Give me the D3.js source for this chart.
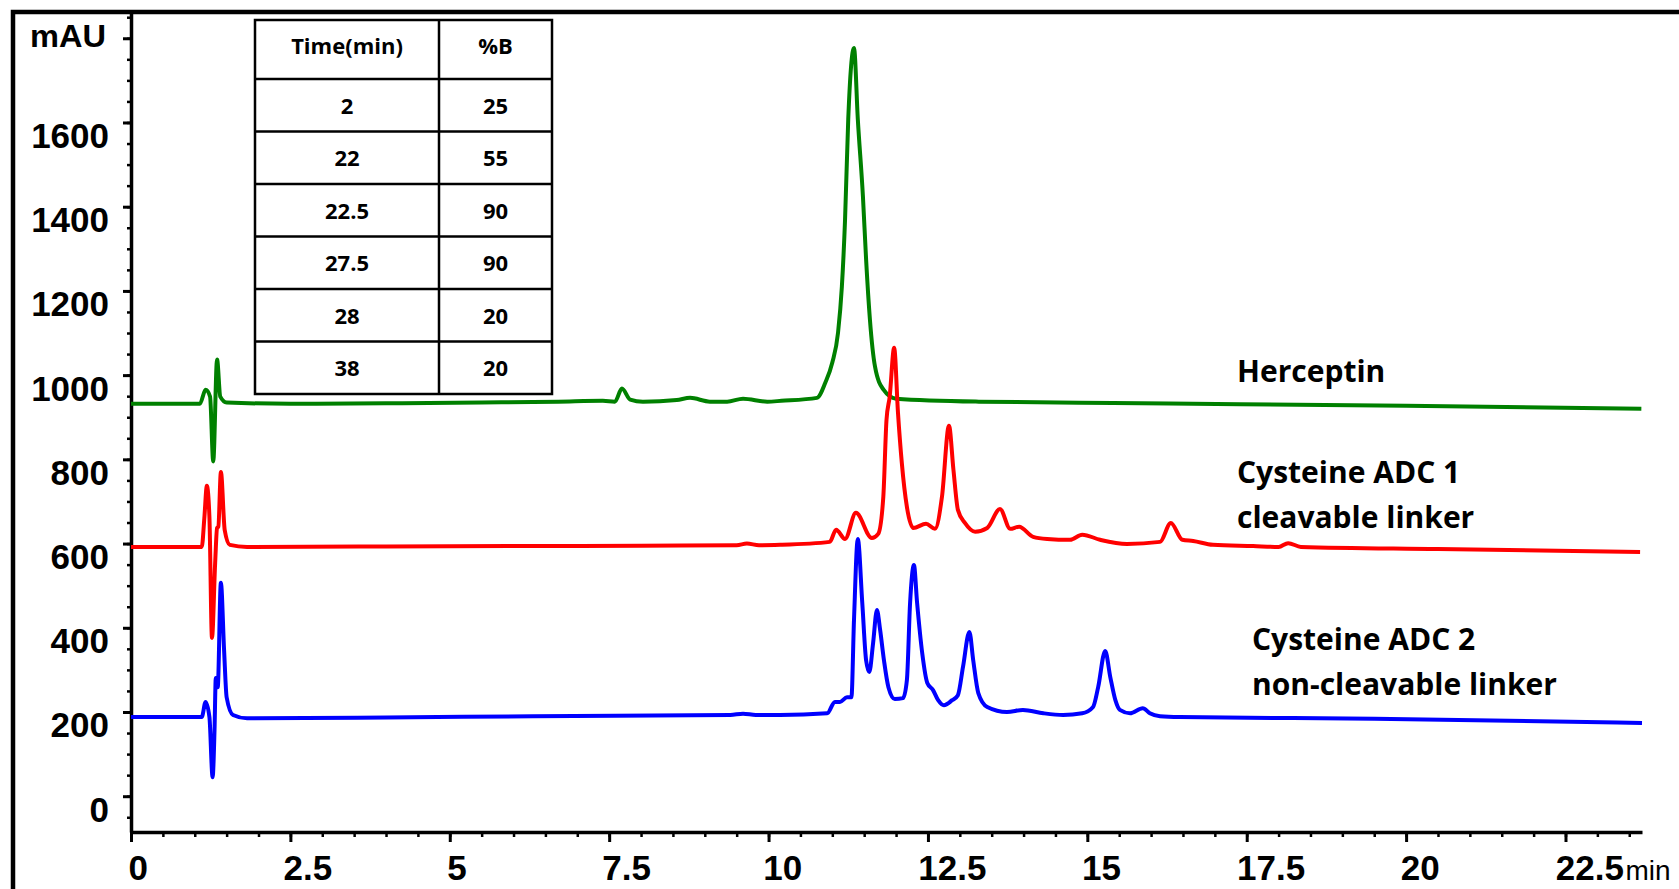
<!DOCTYPE html>
<html>
<head>
<meta charset="utf-8">
<script src="https://cdn.jsdelivr.net/npm/d3@7"></script>
<style>
  body { margin: 0; background: #fff; }
  #wrapper { width: 1679px; height: 889px; overflow: hidden; }
</style>
</head>
<body>
<div id="wrapper"></div>
<script>

// chromatogram traces, [time (min), absorbance (mAU)]
const herceptin = [
  [0, 932], [1.08, 932], [1.17, 965], [1.24, 949], [1.29, 795], [1.35, 1037], [1.40, 949], [1.50, 935],
  [2.5, 932], [4, 933], [5.5, 935], [6.7, 937], [7.4, 939], [7.59, 937], [7.70, 968], [7.83, 942],
  [8.03, 937], [8.56, 941], [8.77, 946], [9.08, 937], [9.35, 937], [9.6, 944], [9.98, 937], [10.2, 939],
  [10.76, 946], [10.89, 982], [11.0, 1030], [11.09, 1101], [11.15, 1210], [11.2, 1370], [11.25, 1608],
  [11.34, 1777], [11.40, 1608], [11.48, 1425], [11.53, 1275], [11.59, 1132], [11.67, 1020], [11.8, 966],
  [12.0, 944], [13.3, 937], [15.4, 934], [17.4, 931], [20, 927], [23.69, 920]
]

const adc1 = [
  [0, 592], [1.11, 592], [1.15, 660], [1.19, 737], [1.23, 663], [1.27, 376], [1.32, 554], [1.35, 637],
  [1.37, 640], [1.41, 770], [1.47, 632], [1.55, 597], [1.82, 592], [4, 593], [6, 594], [8, 595],
  [9.5, 596], [9.66, 600], [9.85, 596], [10.18, 597], [10.96, 604], [11.06, 633], [11.2, 611],
  [11.37, 673], [11.62, 613], [11.72, 623], [11.80, 711], [11.85, 894], [11.9, 949], [11.97, 1065],
  [12.03, 911], [12.09, 792], [12.17, 687], [12.27, 637], [12.47, 647], [12.61, 635], [12.72, 711],
  [12.83, 880], [12.9, 775], [12.97, 680], [13.08, 649], [13.24, 628], [13.43, 637], [13.63, 682],
  [13.79, 635], [13.93, 640], [14.15, 616], [14.37, 611], [14.73, 609], [14.92, 621], [15.2, 609],
  [15.62, 599], [16.14, 604], [16.31, 649], [16.49, 609], [16.66, 606], [16.97, 597], [17.6, 594],
  [18.0, 592], [18.15, 601], [18.35, 592], [20.5, 587], [23.67, 580]
]

const adc2 = [
  [0, 188], [1.11, 188], [1.17, 224], [1.23, 188], [1.28, 45], [1.31, 157], [1.33, 281], [1.36, 259],
  [1.41, 507], [1.46, 347], [1.5, 235], [1.6, 193], [1.82, 185], [4, 187], [6.3, 190], [9.4, 193],
  [9.6, 196], [9.8, 193], [10.18, 193], [10.92, 197], [11.04, 224], [11.12, 224], [11.23, 235],
  [11.3, 235], [11.34, 418], [11.40, 611], [11.47, 459], [11.53, 323], [11.58, 295], [11.64, 364],
  [11.7, 442], [11.75, 395], [11.81, 323], [11.88, 259], [11.98, 231], [12.11, 233], [12.17, 276],
  [12.22, 459], [12.28, 549], [12.33, 459], [12.41, 340], [12.49, 269], [12.58, 252], [12.66, 228],
  [12.75, 216], [12.88, 228], [12.97, 240], [13.05, 307], [13.15, 390], [13.21, 323], [13.29, 245],
  [13.43, 212], [13.74, 200], [13.99, 205], [14.31, 197], [14.62, 193], [14.92, 197], [15.09, 212],
  [15.17, 259], [15.28, 345], [15.36, 283], [15.44, 228], [15.51, 205], [15.67, 197], [15.87, 209],
  [15.98, 197], [16.14, 190], [16.45, 188], [19.5, 184], [23.7, 174]
]

const seriesNames = ["Herceptin", "Cysteine ADC 1", "Cysteine ADC 2"]
const seriesColors = ["#008000", "#ff0000", "#0000ff"]

// gradient table
const gradientTime = ["2", "22", "22.5", "27.5", "28", "38"]
const gradientB = ["25", "55", "90", "90", "20", "20"]

const xTicks = [0, 2.5, 5, 7.5, 10, 12.5, 15, 17.5, 20, 22.5]
const yTicks = [0, 200, 400, 600, 800, 1000, 1200, 1400, 1600]

function drawChart() {

  const xAccessor = d => d[0]
  const yAccessor = d => d[1]

  let dimensions = {
    width: 1679,
    height: 889,
    margin: {
      top: 13,
      right: 37,
      bottom: 57,
      left: 131,
    },
  }
  dimensions.boundedWidth = dimensions.width - dimensions.margin.left - dimensions.margin.right
  dimensions.boundedHeight = dimensions.height - dimensions.margin.top - dimensions.margin.bottom

  const wrapper = d3.select("#wrapper")
    .append("svg")
      .attr("width", dimensions.width)
      .attr("height", dimensions.height)

  // frame (left + top edges only visible)
  wrapper.append("path")
      .attr("d", `M13,${dimensions.height} L13,12 L${dimensions.width},12`)
      .attr("fill", "none")
      .attr("stroke", "#000")
      .attr("stroke-width", 4.5)

  const bounds = wrapper.append("g")
      .attr("transform", `translate(${dimensions.margin.left}, ${dimensions.margin.top})`)

  const xScale = d3.scaleLinear()
    .domain([0, 23.7])
    .range([0, dimensions.boundedWidth])

  const yScale = d3.scaleLinear()
    .domain([-85, 1860])
    .range([dimensions.boundedHeight, 0])

  const tickFont = "'Liberation Sans', Arial, sans-serif"
  const labelFont = "'Open Sans', sans-serif"

  // minor ticks
  bounds.append("g")
      .attr("transform", `translate(0, ${dimensions.boundedHeight})`)
      .call(d3.axisBottom(xScale).tickValues(d3.range(0, 23.75, 0.5)).tickSize(5).tickSizeOuter(0).tickFormat(""))
      .call(g => g.select(".domain").remove())
      .call(g => g.selectAll("line").attr("stroke-width", 2.5))

  bounds.append("g")
      .call(d3.axisLeft(yScale).tickValues(d3.range(-50, 1851, 50)).tickSize(4).tickSizeOuter(0).tickFormat(""))
      .call(g => g.select(".domain").remove())
      .call(g => g.selectAll("line").attr("stroke-width", 2.5))

  // x axis
  const xAxisGenerator = d3.axisBottom()
    .scale(xScale)
    .tickValues(xTicks)
    .tickSize(10)
    .tickSizeOuter(0)
    .tickFormat(d => d)

  const xAxis = bounds.append("g")
      .attr("transform", `translate(0, ${dimensions.boundedHeight})`)
      .call(xAxisGenerator)

  xAxis.select(".domain").attr("stroke-width", 3.5)
  xAxis.selectAll("line").attr("stroke-width", 3)
  xAxis.selectAll("text")
      .attr("fill", "#000")
      .style("font-family", tickFont)
      .style("font-weight", "bold")
      .style("font-size", "35px")
      .attr("dy", null)
      .attr("y", 48)
      .attr("text-anchor", "start")
      .attr("x", function() { return -0.15 * this.getComputedTextLength() })

  xAxis.append("text")
      .attr("x", xScale(22.5) + 60)
      .attr("y", 48)
      .attr("fill", "#000")
      .attr("text-anchor", "start")
      .style("font-family", tickFont)
      .style("font-size", "28px")
      .text("min")

  // y axis
  const yAxisGenerator = d3.axisLeft()
    .scale(yScale)
    .tickValues(yTicks.concat([1800]))
    .tickSize(8)
    .tickSizeOuter(0)
    .tickPadding(14)
    .tickFormat(d => d == 1800 ? "" : d)

  const yAxis = bounds.append("g")
      .call(yAxisGenerator)

  yAxis.select(".domain").attr("stroke-width", 3.5)
  yAxis.selectAll("line").attr("stroke-width", 3)
  yAxis.selectAll("text")
      .attr("fill", "#000")
      .style("font-family", tickFont)
      .style("font-weight", "bold")
      .style("font-size", "35px")
      .attr("dy", null)
      .attr("y", 25)

  yAxis.append("text")
      .attr("x", -25)
      .attr("y", yScale(1800) + 9)
      .attr("fill", "#000")
      .attr("text-anchor", "end")
      .attr("textLength", 76)
      .attr("lengthAdjust", "spacingAndGlyphs")
      .style("font-family", tickFont)
      .style("font-weight", "bold")
      .style("font-size", "31px")
      .text("mAU")

  // traces
  const lineGenerator = d3.line()
    .x(d => xScale(xAccessor(d)))
    .y(d => yScale(yAccessor(d)))
    .curve(d3.curveMonotoneX)

  const traces = [herceptin, adc1, adc2]
  bounds.selectAll(".trace")
    .data(traces)
    .enter().append("path")
      .attr("class", "trace")
      .attr("d", lineGenerator)
      .attr("fill", "none")
      .attr("stroke", (d, i) => seriesColors[i])
      .attr("stroke-width", 4)
      .attr("stroke-linejoin", "round")

  // trace labels
  const labels = [
    { lines: [seriesNames[0]], x: 1237, y: 382 },
    { lines: [seriesNames[1], "cleavable linker"], x: 1237, y: 483 },
    { lines: [seriesNames[2], "non-cleavable linker"], x: 1252, y: 650 },
  ]
  labels.forEach(l => {
    const t = wrapper.append("text")
        .attr("fill", "#000")
        .style("font-family", labelFont)
        .style("font-weight", "bold")
        .style("font-size", "30px")
    l.lines.forEach((s, i) => {
      t.append("tspan").attr("x", l.x).attr("y", l.y + i * 44.5).text(s)
    })
  })

  // gradient table
  const table = wrapper.append("g")
  const tLeft = 255, tRight = 552, tMid = 439, tTop = 20, headH = 59, rowH = 52.5
  const tBottom = tTop + headH + rowH * gradientTime.length

  table.append("rect")
      .attr("x", tLeft).attr("y", tTop)
      .attr("width", tRight - tLeft).attr("height", tBottom - tTop)
      .attr("fill", "#fff").attr("stroke", "#000").attr("stroke-width", 2.5)
  table.append("line")
      .attr("x1", tMid).attr("x2", tMid).attr("y1", tTop).attr("y2", tBottom)
      .attr("stroke", "#000").attr("stroke-width", 2.5)
  table.selectAll(".row-line")
    .data(gradientTime)
    .enter().append("line")
      .attr("x1", tLeft).attr("x2", tRight)
      .attr("y1", (d, i) => tTop + headH + i * rowH)
      .attr("y2", (d, i) => tTop + headH + i * rowH)
      .attr("stroke", "#000").attr("stroke-width", 2.5)

  const cellText = (x, y, s) => table.append("text")
      .attr("x", x).attr("y", y)
      .attr("text-anchor", "middle")
      .attr("fill", "#000")
      .style("font-family", labelFont)
      .style("font-weight", "bold")
      .style("font-size", "22px")
      .text(s)

  cellText((tLeft + tMid) / 2, tTop + 34, "Time(min)")
  cellText((tMid + tRight) / 2, tTop + 34, "%B")
  gradientTime.forEach((d, i) => {
    const cy = tTop + headH + i * rowH + rowH / 2 + 8.5
    cellText((tLeft + tMid) / 2, cy, d)
    cellText((tMid + tRight) / 2, cy, gradientB[i])
  })
}

drawChart()
</script>
</body>
</html>
